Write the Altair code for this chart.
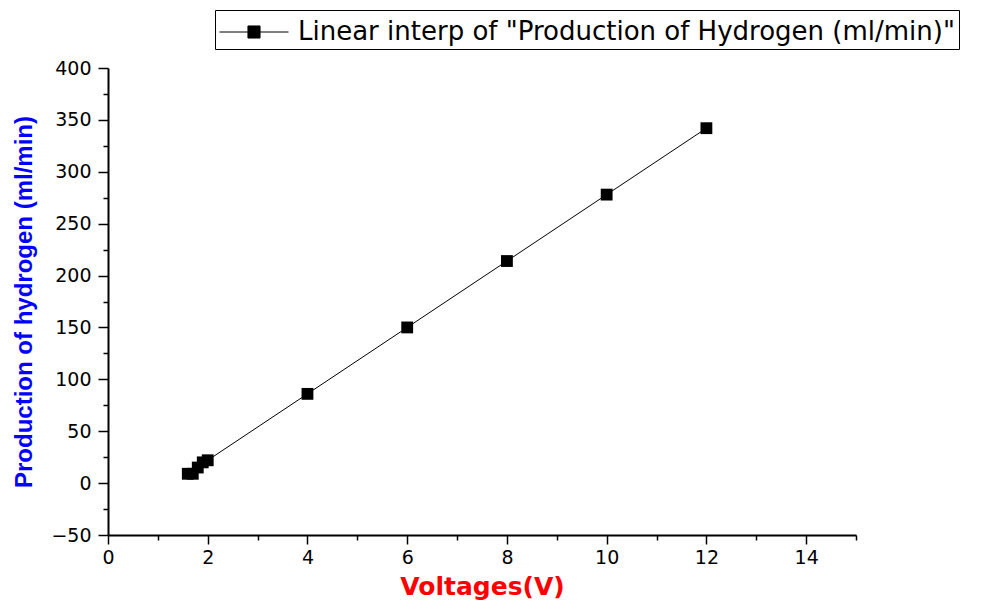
import altair as alt
import pandas as pd

# Data
voltages = [1.6, 1.7, 1.8, 1.9, 2.0, 4, 6, 8, 10, 12]
hydrogen = [9, 9, 15, 20, 22, 86, 150, 214, 278, 342]
series_name = 'Linear interp of "Production of Hydrogen (ml/min)"'

x_ticks = list(range(0, 16))
y_ticks = list(range(-50, 401, 25))

df = pd.DataFrame({"V": voltages, "H": hydrogen, "series": [series_name] * len(voltages)})

LABEL_FONT = "DejaVu Sans"

x_enc = alt.X(
    "V:Q",
    scale=alt.Scale(domain=[0, 15], nice=False, zero=False),
    axis=alt.Axis(
        title="Voltages(V)",
        values=x_ticks,
        labelExpr="datum.value % 2 === 0 ? datum.label : ''",
        labelOverlap=False,
        labelFlush=False,
        tickSize={"condition": {"test": "datum.value % 2 === 0", "value": 9}, "value": 5},
        grid=False,
        titleFont="DejaVu Sans",
        titleFontSize=25,
        titleBaseline="alphabetic",
        titleY=59,
        labelPadding=4,
    ),
)
y_enc = alt.Y(
    "H:Q",
    scale=alt.Scale(domain=[-50, 400], nice=False, zero=False),
    axis=alt.Axis(
        title="Production of hydrogen (ml/min)",
        values=y_ticks,
        labelExpr="datum.value % 50 === 0 ? datum.label : ''",
        labelOverlap=False,
        labelFlush=False,
        tickSize={"condition": {"test": "datum.value % 50 === 0", "value": 10}, "value": 5},
        grid=False,
        titleFont="Liberation Sans",
        titleFontSize=24,
        titleBaseline="middle",
        titleX=-84,
        labelPadding=7,
    ),
)

color = alt.Color(
    "series:N",
    scale=alt.Scale(range=["black"]),
    legend=alt.Legend(
        title=None,
        orient="none",
        legendX=107,
        legendY=-58,
        direction="vertical",
        symbolType="M-2,0H-0.35M0.35,0H2M-0.35,-0.35H0.35V0.35H-0.35Z",
        symbolSize=1190,
        symbolFillColor="black",
        symbolStrokeColor="black",
        symbolStrokeWidth=1,
        symbolOffset=17,
        labelOffset=26,
        labelFont=LABEL_FONT,
        labelFontSize=26,
        labelColor="black",
        labelLimit=900,
        strokeColor="black",
        fillColor="white",
        padding=4,
    ),
)

line = alt.Chart(df).mark_line(color="black", strokeWidth=1).encode(
    x=x_enc, y=y_enc, order="V:Q"
)
points = alt.Chart(df).mark_point(shape="square", filled=True, size=140, opacity=1).encode(
    x=x_enc, y=y_enc, color=color
)

chart = (
    alt.layer(line, points)
    .properties(
        width=748,
        height=467,
        autosize=alt.AutoSizeParams(type="none"),
        padding={"left": 100, "top": 60, "right": 128, "bottom": 66},
    )
    .configure_view(stroke=None)
    .configure_axis(
        domainColor="black",
        domainWidth=2,
        tickColor="black",
        tickWidth=1.5,
        labelFont=LABEL_FONT,
        labelFontSize=19,
        labelColor="black",
        titleFontWeight="bold",
    )
    .configure_axisX(titleColor="#ff0000")
    .configure_axisY(titleColor="#0000ff")
)

chart.save("out.html", embed_options={"renderer": "svg", "actions": False})
